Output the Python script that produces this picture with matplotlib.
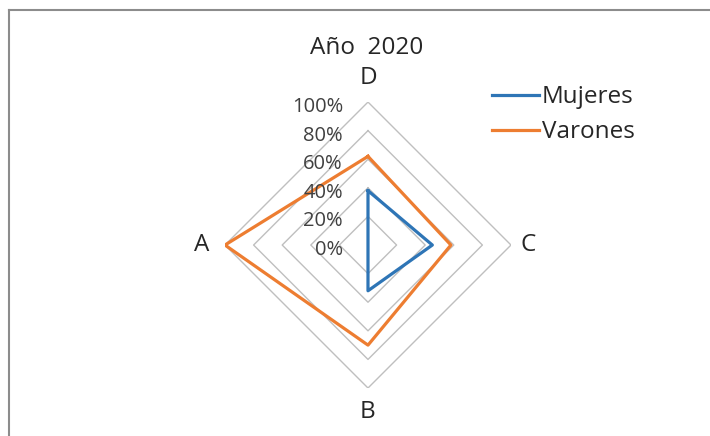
import numpy as np
import matplotlib
matplotlib.use("Agg")
import matplotlib.pyplot as plt
from matplotlib.transforms import offset_copy
from matplotlib.lines import Line2D

# categories clockwise from the top, as Excel draws them
categories = ["D", "C", "B", "A"]
mujeres = [0.38, 0.45, 0.32, 0.0]
varones = [0.62, 0.58, 0.70, 1.0]
levels = [0.2, 0.4, 0.6, 0.8, 1.0]
level_labels = ["0%", "20%", "40%", "60%", "80%", "100%"]

title = "Año  2020"
blue = "#2E75B6"
orange = "#ED7D31"
grid_color = "#BFBFBF"

plt.rcParams["font.family"] = ["Open Sans", "DejaVu Sans"]


def closed(vals):
    return list(vals) + [vals[0]]


def main():
    fig = plt.figure(figsize=(7.1, 4.36), dpi=100)
    ax = fig.add_axes([0.3169, 0.110, 0.4028, 0.656], projection="polar")
    ax.set_theta_zero_location("N")
    ax.set_theta_direction(-1)
    ax.set_ylim(0, 1)
    ax.grid(False)
    ax.spines["polar"].set_visible(False)
    ax.set_xticks([])
    ax.set_yticks([])
    ax.patch.set_alpha(0)

    theta = np.linspace(0, 2 * np.pi, len(categories), endpoint=False)
    th = closed(theta)

    for lv in levels:
        ax.plot(th, [lv] * len(th), color=grid_color, lw=1.0, zorder=1)

    ax.plot(th, closed(varones), color=orange, lw=2.3, zorder=3)
    ax.plot(th, closed(mujeres), color=blue, lw=2.3, zorder=4)

    # value labels left of the vertical axis
    tr = offset_copy(ax.transData, fig=fig, x=-25, y=-5, units="dots")
    for lv, lab in zip([0.0] + levels, level_labels):
        ax.text(0, lv, lab, transform=tr, ha="right", va="center",
                fontsize=14.5, color="#404040", clip_on=False)

    for t, c in zip(theta, categories):
        r = 1.12 if c == "C" else 1.165
        ax.text(t, r, c, ha="center", va="center", fontsize=17.5,
                color="#262626", clip_on=False)

    fig.text(0.516, 0.89, title, ha="center", va="center", fontsize=17.5,
             color="#262626")

    handles = [Line2D([], [], color=blue, lw=2.3),
               Line2D([], [], color=orange, lw=2.3)]
    fig.legend(handles, ["Mujeres", "Varones"], loc="upper left",
               bbox_to_anchor=(0.6615, 0.855), frameon=False, fontsize=17.5,
               handlelength=1.95, handletextpad=0.12, labelspacing=0.45,
               labelcolor="#262626")

    # chart area border (left and top edges visible)
    fig.add_artist(Line2D([9 / 710, 9 / 710], [0, 1 - 10 / 436],
                          transform=fig.transFigure, color="#8C8C8C", lw=1.5))
    fig.add_artist(Line2D([9 / 710, 1], [1 - 10 / 436, 1 - 10 / 436],
                          transform=fig.transFigure, color="#8C8C8C", lw=1.5))

    fig.savefig("out.png", dpi=100)


if __name__ == "__main__":
    main()
